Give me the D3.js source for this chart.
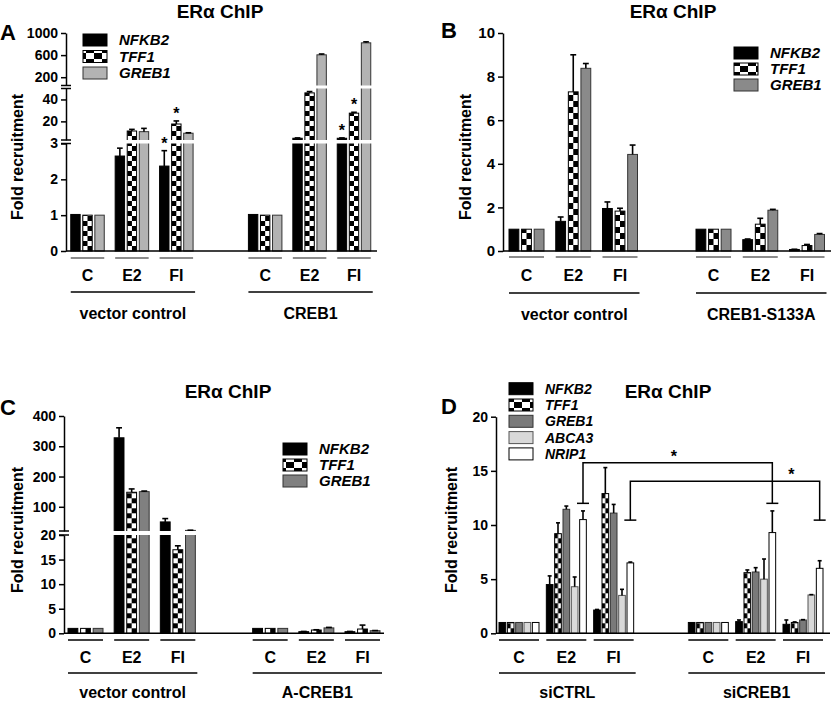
<!DOCTYPE html>
<html>
<head>
<meta charset="utf-8">
<script src="https://cdn.jsdelivr.net/npm/d3@7"></script>
<style>
body { margin: 0; background: #fff; }
svg { display: block; font-family: "Liberation Sans", Arial, sans-serif; }
</style>
</head>
<body>
<div id="canvas"></div>
<script>
// shared categories
const treatments = ["C", "E2", "FI"];
const genes3 = ["NFKB2", "TFF1", "GREB1"];
const genes5 = ["NFKB2", "TFF1", "GREB1", "ABCA3", "NRIP1"];
const chipTitle = "ER\u03b1 ChIP";
const yTitle = "Fold recruitment";

// panel A  (order: group1 C,E2,FI, group2 C,E2,FI)
const groupsA = ["vector control", "CREB1"];
const nfkb2A = [1.02, 2.65, 2.37, 1.02, 4.6, 4.6];
const tff1A = [1, 11.2, 17.6, 1, 46, 27.5];
const greb1A = [1, 10.6, 9.2, 1, 605, 822];
const nfkb2ErrA = [0, 0.22, 0.43, 0, 0.3, 0.3];
const tff1ErrA = [0, 1.5, 2.8, 0, 1.2, 0.8];
const greb1ErrA = [0, 3, 0.4, 0, 15, 18];
const ticksA = [[0, 1, 2, 3], [20, 40], [200, 600, 1000]];
const starsA = [[0, 2], [1, 2], [0, 5], [1, 5]]; // [gene, bar index]

// panel B
const groupsB = ["vector control", "CREB1-S133A"];
const nfkb2B = [1, 1.36, 1.95, 1, 0.52, 0.07];
const tff1B = [1, 7.3, 1.83, 1, 1.23, 0.25];
const greb1B = [1, 8.38, 4.43, 1, 1.87, 0.76];
const nfkb2ErrB = [0, 0.2, 0.3, 0, 0.03, 0.01];
const tff1ErrB = [0, 1.7, 0.13, 0, 0.27, 0.05];
const greb1ErrB = [0, 0.22, 0.43, 0, 0.04, 0.04];
const ticksB = [[0, 2, 4, 6, 8, 10]];

// panel C
const groupsC = ["vector control", "A-CREB1"];
const nfkb2C = [1, 328, 50, 1, 0.33, 0.33];
const tff1C = [1, 148, 17, 1, 0.67, 0.87];
const greb1C = [1, 150, 22, 1, 1.1, 0.53];
const nfkb2ErrC = [0, 33, 11, 0, 0.05, 0.05];
const tff1ErrC = [0, 11, 0.8, 0, 0.05, 0.8];
const greb1ErrC = [0, 2, 0.6, 0, 0.1, 0.03];
const ticksC = [[0, 5, 10, 15, 20], [100, 200, 300, 400]];

// panel D
const groupsD = ["siCTRL", "siCREB1"];
const nfkb2D = [1, 4.5, 2.15, 1, 1.08, 0.83];
const tff1D = [1, 9.2, 12.9, 1, 5.6, 1.0];
const greb1D = [1, 11.45, 11.1, 1, 5.66, 1.23];
const abca3D = [1, 4.3, 3.5, 1, 5.0, 3.54];
const nrip1D = [1, 10.5, 6.5, 1, 9.3, 6.0];
const nfkb2ErrD = [0, 0.8, 0.05, 0, 0.15, 0.4];
const tff1ErrD = [0, 1.0, 2.4, 0, 0.25, 0.05];
const greb1ErrD = [0, 0.3, 0.8, 0, 0.4, 0.03];
const abca3ErrD = [0, 0.9, 0.56, 0, 1.86, 0.03];
const nrip1ErrD = [0, 0.8, 0.08, 0, 2.0, 0.7];
const ticksD = [[0, 5, 10, 15, 20]];
// significance brackets on NRIP1: [barFrom, barTo, capValue, topValue, starFraction]
const bracketsD = [[1, 4, 12.0, 15.75, 0.48], [2, 5, 10.45, 14.05, 0.85]];

// slot of each bar index on the x scale (one empty slot between the two groups)
const slots = [0, 1, 2, 4, 5, 6];

const svg = d3.select("#canvas").append("svg")
    .attr("width", 832)
    .attr("height", 702);
const defs = svg.append("defs");

function drawPanel(p) {
    const g = svg.append("g");
    const y = d3.scaleLinear().domain(p.yDomain).range(p.yRange);
    const x = d3.scaleLinear().domain([0, 6]).range(p.xRange);
    const inner = d3.scaleBand().domain(p.genes)
        .range([-p.clusterW / 2, p.clusterW / 2]).paddingInner(p.pad);
    const bw = inner.bandwidth();
    const y0 = y(0);

    const fills = {NFKB2: "#000", GREB1: p.greb, ABCA3: "#d9d9d9", NRIP1: "#fff"};
    const strokes = {NFKB2: "#000", TFF1: "#000", GREB1: "#333", ABCA3: "#555", NRIP1: "#000"};

    const rows = [];
    p.genes.forEach(function (gene, gi) {
        p.values[gi].forEach(function (v, k) {
            rows.push({gene: gene, k: k, v: v, err: p.errors[gi][k],
                bx: x(slots[k]) + inner(gene)});
        });
    });

    // checker patterns for TFF1 bars
    rows.filter(d => d.gene === "TFF1").forEach(function (d) {
        const pat = defs.append("pattern")
            .attr("id", "chk-" + p.id + "-" + d.k)
            .attr("patternUnits", "userSpaceOnUse")
            .attr("x", d.bx).attr("y", y0)
            .attr("width", bw).attr("height", p.chkH * 2);
        pat.append("rect").attr("width", bw).attr("height", p.chkH * 2).attr("fill", "#fff");
        pat.append("rect").attr("x", 0).attr("y", 0).attr("width", bw / 2).attr("height", p.chkH).attr("fill", "#000");
        pat.append("rect").attr("x", bw / 2).attr("y", p.chkH).attr("width", bw / 2).attr("height", p.chkH).attr("fill", "#000");
    });

    g.selectAll(".bar")
        .data(rows)
        .enter().append("rect")
        .attr("class", "bar")
        .attr("x", d => d.bx)
        .attr("y", d => y(d.v))
        .attr("width", bw)
        .attr("height", d => y0 - y(d.v))
        .attr("fill", d => d.gene === "TFF1" ? "url(#chk-" + p.id + "-" + d.k + ")" : fills[d.gene])
        .attr("stroke", d => strokes[d.gene])
        .attr("stroke-width", 1);

    // error bars (upward)
    const eb = g.selectAll(".err").data(rows.filter(d => d.err > 0)).enter().append("g")
        .attr("stroke", "#000").attr("stroke-width", 1.6);
    eb.append("line")
        .attr("x1", d => d.bx + bw / 2).attr("x2", d => d.bx + bw / 2)
        .attr("y1", d => y(d.v)).attr("y2", d => y(d.v + d.err));
    eb.append("line")
        .attr("x1", d => d.bx + bw * 0.2).attr("x2", d => d.bx + bw * 0.8)
        .attr("y1", d => y(d.v + d.err)).attr("y2", d => y(d.v + d.err));

    // axis segments with breaks
    const nSeg = p.yDomain.length / 2;
    for (let s = 0; s < nSeg; s++) {
        const seg = d3.scaleLinear()
            .domain([p.yDomain[2 * s], p.yDomain[2 * s + 1]])
            .range([p.yRange[2 * s], p.yRange[2 * s + 1]]);
        const ax = g.append("g")
            .attr("transform", "translate(" + p.axisX + ",0)")
            .call(d3.axisLeft(seg).tickValues(p.ticks[s]).tickFormat(d3.format("d"))
                .tickSize(5).tickSizeOuter(0).tickPadding(3));
        ax.selectAll("path, line").attr("stroke", "#000").attr("stroke-width", 1.5);
        ax.selectAll("text").attr("font-size", p.tickFont).attr("font-weight", "bold")
            .attr("font-family", "'Liberation Sans', Arial, sans-serif").attr("fill", "#000");
        if (s > 0) {
            // white gap through the bars and break marks
            const yb = p.yRange[2 * s - 1], yt = p.yRange[2 * s];
            g.append("rect")
                .attr("x", p.axisX + 1).attr("y", yt)
                .attr("width", p.xEnd - p.axisX).attr("height", yb - yt)
                .attr("fill", "#fff");
            [yb, yt].forEach(function (yy) {
                g.append("line").attr("x1", p.axisX - 5).attr("x2", p.axisX + 5)
                    .attr("y1", yy).attr("y2", yy)
                    .attr("stroke", "#000").attr("stroke-width", 1.5);
            });
        }
    }

    // x axis baseline
    g.append("line").attr("x1", p.axisX).attr("x2", p.xEnd)
        .attr("y1", y0).attr("y2", y0).attr("stroke", "#000").attr("stroke-width", 1.5);

    // treatment underlines and labels
    slots.forEach(function (sl, k) {
        g.append("line")
            .attr("x1", x(sl) - p.clusterW / 2).attr("x2", x(sl) + p.clusterW / 2)
            .attr("y1", p.underY).attr("y2", p.underY)
            .attr("stroke", p.underColor).attr("stroke-width", 1.5);
        g.append("text")
            .attr("x", x(sl)).attr("y", p.treatY)
            .attr("text-anchor", "middle").attr("font-size", 16).attr("font-weight", "bold")
            .text(treatments[k % 3]);
    });
    p.groups.forEach(function (name, gi) {
        const a = x(slots[gi * 3]) - p.clusterW / 2;
        const b = x(slots[gi * 3 + 2]) + p.clusterW / 2 + 2;
        g.append("line").attr("x1", a).attr("x2", b)
            .attr("y1", p.longY).attr("y2", p.longY)
            .attr("stroke", "#000").attr("stroke-width", 1.5);
        g.append("text")
            .attr("x", (a + b) / 2).attr("y", p.groupY)
            .attr("text-anchor", "middle").attr("font-size", 16).attr("font-weight", "bold")
            .text(name);
    });

    // stars
    (p.stars || []).forEach(function (st) {
        const d = rows.find(r => r.gene === p.genes[st[0]] && r.k === st[1]);
        g.append("text")
            .attr("x", d.bx + bw / 2).attr("y", y(d.v + d.err) - 2)
            .attr("text-anchor", "middle").attr("font-size", 16).attr("font-weight", "bold")
            .text("*");
    });

    // brackets
    (p.brackets || []).forEach(function (br) {
        const gene = p.genes[p.genes.length - 1];
        const xa = x(slots[br[0]]) + inner(gene) + bw / 2;
        const xb = x(slots[br[1]]) + inner(gene) + bw / 2;
        const yc = y(br[2]), yt = y(br[3]);
        g.append("path")
            .attr("d", "M" + xa + "," + yc + "V" + yt + "H" + xb + "V" + yc)
            .attr("fill", "none").attr("stroke", "#000").attr("stroke-width", 1.5);
        [xa, xb].forEach(function (xx) {
            g.append("line").attr("x1", xx - 6).attr("x2", xx + 6)
                .attr("y1", yc).attr("y2", yc).attr("stroke", "#000").attr("stroke-width", 1.5);
        });
        g.append("text")
            .attr("x", xa + (xb - xa) * br[4]).attr("y", yt - 1)
            .attr("text-anchor", "middle").attr("font-size", 16).attr("font-weight", "bold")
            .text("*");
    });

    // titles
    g.append("text").attr("x", p.titleX).attr("y", p.titleY)
        .attr("text-anchor", "middle").attr("font-size", 19).attr("font-weight", "bold")
        .text(chipTitle);
    g.append("text").attr("x", p.letterX).attr("y", p.letterY)
        .attr("font-size", 22).attr("font-weight", "bold").text(p.id);
    g.append("text")
        .attr("transform", "translate(" + p.yTitleX + "," + p.yTitleY + ") rotate(-90)")
        .attr("text-anchor", "middle").attr("dy", "0.35em")
        .attr("font-size", 16).attr("font-weight", "bold").text(yTitle);

    // legend
    const lg = g.append("g").attr("transform", "translate(" + p.legX + "," + p.legY + ")");
    const lpat = defs.append("pattern")
        .attr("id", "lchk-" + p.id).attr("patternUnits", "userSpaceOnUse")
        .attr("x", p.legX).attr("y", p.legY + p.legStep)
        .attr("width", 16).attr("height", 12);
    lpat.append("rect").attr("width", 16).attr("height", 12).attr("fill", "#fff");
    lpat.append("rect").attr("x", 8).attr("width", 8).attr("height", 6).attr("fill", "#000");
    lpat.append("rect").attr("y", 6).attr("width", 8).attr("height", 6).attr("fill", "#000");
    const li = lg.selectAll(".leg").data(p.genes).enter().append("g")
        .attr("transform", (d, i) => "translate(0," + i * p.legStep + ")");
    li.append("rect")
        .attr("width", 24).attr("height", 12)
        .attr("fill", d => d === "TFF1" ? "url(#lchk-" + p.id + ")" : fills[d])
        .attr("stroke", d => strokes[d]).attr("stroke-width", 1);
    li.append("text")
        .attr("x", 36).attr("y", 6).attr("dy", "0.36em")
        .attr("font-size", p.legFont).attr("font-weight", "bold").attr("font-style", "italic")
        .text(d => d);
}

drawPanel({
    id: "A", genes: genes3, groups: groupsA,
    values: [nfkb2A, tff1A, greb1A], errors: [nfkb2ErrA, tff1ErrA, greb1ErrA],
    yDomain: [0, 3, 3.000001, 50, 50.000001, 1000],
    yRange: [251, 143.5, 140, 88.5, 85.5, 33], ticks: ticksA, tickFont: 14,
    axisX: 66, xEnd: 377, xRange: [87.5, 354], clusterW: 33.5, pad: 0.22, chkH: 5,
    greb: "#b3b3b3", underColor: "#666", stars: starsA,
    underY: 258, treatY: 281, longY: 292, groupY: 319,
    titleX: 220, titleY: 18, letterX: 0, letterY: 40, yTitleX: 17, yTitleY: 157,
    legX: 83, legY: 34, legStep: 16.5, legFont: 15
});

drawPanel({
    id: "B", genes: genes3, groups: groupsB,
    values: [nfkb2B, tff1B, greb1B], errors: [nfkb2ErrB, tff1ErrB, greb1ErrB],
    yDomain: [0, 10], yRange: [251, 33], ticks: ticksB, tickFont: 15,
    axisX: 503, xEnd: 831, xRange: [526.5, 807], clusterW: 35, pad: 0.22, chkH: 6,
    greb: "#8a8a8a", underColor: "#666",
    underY: 257, treatY: 281, longY: 293, groupY: 320,
    titleX: 673, titleY: 18, letterX: 441, letterY: 38, yTitleX: 465, yTitleY: 157,
    legX: 734, legY: 47, legStep: 16, legFont: 15
});

drawPanel({
    id: "C", genes: genes3, groups: groupsC,
    values: [nfkb2C, tff1C, greb1C], errors: [nfkb2ErrC, tff1ErrC, greb1ErrC],
    yDomain: [0, 20, 20.000001, 400], yRange: [633.3, 535, 531, 416], ticks: ticksC, tickFont: 14,
    axisX: 64, xEnd: 384, xRange: [85.5, 362.5], clusterW: 35, pad: 0.22, chkH: 5,
    greb: "#808080", underColor: "#000",
    underY: 640, treatY: 663, longY: 673, groupY: 698,
    titleX: 228, titleY: 398, letterX: 0, letterY: 415, yTitleX: 17, yTitleY: 530,
    legX: 283, legY: 443, legStep: 16, legFont: 15
});

drawPanel({
    id: "D", genes: genes5, groups: groupsD,
    values: [nfkb2D, tff1D, greb1D, abca3D, nrip1D],
    errors: [nfkb2ErrD, tff1ErrD, greb1ErrD, abca3ErrD, nrip1ErrD],
    yDomain: [0, 20], yRange: [633.3, 416.7], ticks: ticksD, tickFont: 14,
    axisX: 496, xEnd: 830, xRange: [519, 803], clusterW: 40, pad: 0.2, chkH: 5,
    greb: "#7a7a7a", underColor: "#000", brackets: bracketsD,
    underY: 640, treatY: 663, longY: 673, groupY: 698,
    titleX: 668, titleY: 398, letterX: 441, letterY: 414, yTitleX: 451, yTitleY: 530,
    legX: 509, legY: 382.7, legStep: 16.3, legFont: 14
});
</script>
</body>
</html>
